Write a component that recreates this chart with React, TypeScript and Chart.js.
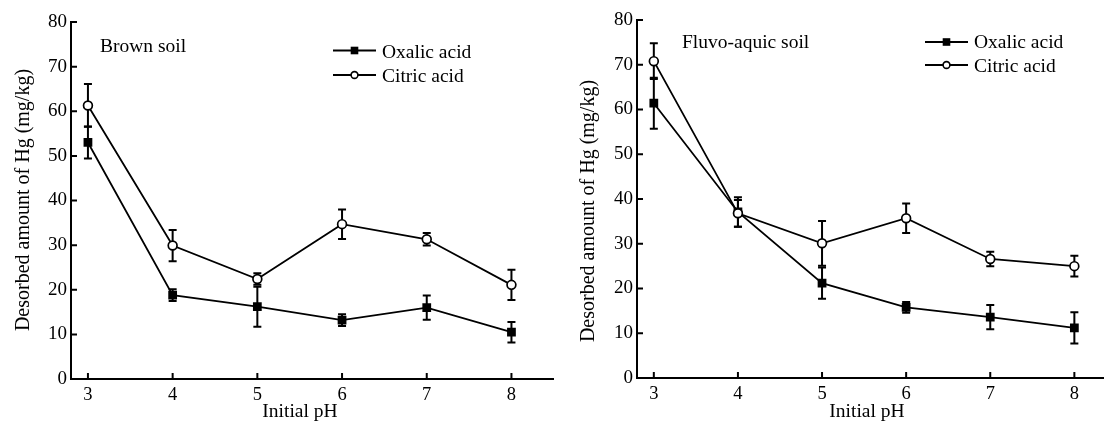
import React, { useEffect, useRef } from "react";
import { Chart, registerables } from "chart.js";

Chart.register(...registerables);

// ---------- data ----------
const pH = [3, 4, 5, 6, 7, 8];
const yTicks = [0, 10, 20, 30, 40, 50, 60, 70, 80];

const brownOxalic = [53.0, 18.8, 16.2, 13.2, 16.0, 10.5];
const brownOxalicErr = [3.6, 1.3, 4.5, 1.3, 2.7, 2.3];
const brownCitric = [61.3, 29.9, 22.4, 34.7, 31.3, 21.1];
const brownCitricErr = [4.8, 3.5, 1.3, 3.3, 1.4, 3.4];

const fluvoOxalic = [61.4, 37.1, 21.2, 15.8, 13.6, 11.2];
const fluvoOxalicErr = [5.7, 3.3, 3.5, 1.2, 2.7, 3.5];
const fluvoCitric = [70.8, 36.8, 30.1, 35.7, 26.6, 25.0];
const fluvoCitricErr = [4.0, 3.0, 5.0, 3.3, 1.6, 2.3];

const seriesNames = ["Oxalic acid", "Citric acid"];
const panelNames = ["Brown soil", "Fluvo-aquic soil"];
const xTitle = "Initial pH";
const yTitle = "Desorbed amount of Hg (mg/kg)";

// ---------- layout / style ----------
const FONT = "'Liberation Serif', 'Times New Roman', serif";

type Panel = {
  name: string;
  oxalic: number[];
  oxalicErr: number[];
  citric: number[];
  citricErr: number[];
  left: number;
  width: number;
  xMax: number;
  yAxisWidth: number;
  topPad: number;
  rightPad: number;
  xAxisHeight: number;
  nameX: number;
  nameY: number;
  yTitleX: number;
  yTitleY: number;
  xTitleX: number;
  xTitleY: number;
  legendX: number;
  legendRowY: number[];
  legendTextY: number[];
};

const panels: Panel[] = [
  {
    name: panelNames[0],
    oxalic: brownOxalic,
    oxalicErr: brownOxalicErr,
    citric: brownCitric,
    citricErr: brownCitricErr,
    left: 0,
    width: 560,
    xMax: 8.5,
    yAxisWidth: 71,
    topPad: 22,
    rightPad: 3,
    xAxisHeight: 49,
    nameX: 100,
    nameY: 52,
    yTitleX: 28.5,
    yTitleY: 200,
    xTitleX: 300,
    xTitleY: 416.5,
    legendX: 333,
    legendRowY: [50.5, 75],
    legendTextY: [58, 81.5],
  },
  {
    name: panelNames[1],
    oxalic: fluvoOxalic,
    oxalicErr: fluvoOxalicErr,
    citric: fluvoCitric,
    citricErr: fluvoCitricErr,
    left: 560,
    width: 550,
    xMax: 8.35,
    yAxisWidth: 77,
    topPad: 20,
    rightPad: 0,
    xAxisHeight: 50,
    nameX: 122,
    nameY: 48,
    yTitleX: 34,
    yTitleY: 211,
    xTitleX: 307,
    xTitleY: 416.5,
    legendX: 365,
    legendRowY: [42, 65],
    legendTextY: [48.3, 71.5],
  },
];

function PanelChart({ p }: { p: Panel }) {
  const ref = useRef<HTMLCanvasElement>(null);

  useEffect(() => {
    const canvas = ref.current!;
    const errs = [p.oxalicErr, p.citricErr];

    const deco = {
      id: "panelDeco",
      beforeDatasetsDraw(chart: any) {
        const ctx = chart.ctx;
        const xs = chart.scales.x;
        const ys = chart.scales.y;
        ctx.save();
        ctx.strokeStyle = "#000";
        ctx.lineWidth = 2;
        chart.data.datasets.forEach((ds: any, i: number) => {
          ds.data.forEach((pt: any, j: number) => {
            const e = errs[i][j];
            const x = xs.getPixelForValue(pt.x);
            const y1 = ys.getPixelForValue(pt.y + e);
            const y2 = ys.getPixelForValue(pt.y - e);
            ctx.beginPath();
            ctx.moveTo(x, y1);
            ctx.lineTo(x, y2);
            ctx.moveTo(x - 4, y1);
            ctx.lineTo(x + 4, y1);
            ctx.moveTo(x - 4, y2);
            ctx.lineTo(x + 4, y2);
            ctx.stroke();
          });
        });
        ctx.restore();
      },
      afterDraw(chart: any) {
        const ctx = chart.ctx;
        const xs = chart.scales.x;
        const ys = chart.scales.y;
        const area = chart.chartArea;
        ctx.save();
        ctx.strokeStyle = "#000";
        ctx.fillStyle = "#000";
        ctx.lineWidth = 2;
        // inward tick marks
        ctx.beginPath();
        yTicks.forEach((v) => {
          if (v === 0) return;
          const y = ys.getPixelForValue(v);
          ctx.moveTo(area.left, y);
          ctx.lineTo(area.left + 6, y);
        });
        pH.forEach((v) => {
          const x = xs.getPixelForValue(v);
          ctx.moveTo(x, area.bottom);
          ctx.lineTo(x, area.bottom - 6);
        });
        ctx.stroke();

        // panel name
        ctx.font = `19.5px ${FONT}`;
        ctx.textBaseline = "alphabetic";
        ctx.textAlign = "left";
        ctx.fillText(p.name, p.nameX, p.nameY);

        // x title
        ctx.textAlign = "center";
        ctx.fillText(xTitle, p.xTitleX, p.xTitleY);

        // y title
        ctx.save();
        ctx.translate(p.yTitleX, p.yTitleY);
        ctx.rotate(-Math.PI / 2);
        ctx.font = `20px ${FONT}`;
        ctx.textAlign = "center";
        ctx.textBaseline = "alphabetic";
        ctx.fillText(yTitle, 0, 0);
        ctx.restore();

        // legend
        seriesNames.forEach((name, i) => {
          const y = p.legendRowY[i];
          const x0 = p.legendX;
          ctx.lineWidth = 2;
          ctx.beginPath();
          ctx.moveTo(x0, y);
          ctx.lineTo(x0 + 43, y);
          ctx.stroke();
          const cx = x0 + 21.5;
          if (i === 0) {
            ctx.fillStyle = "#000";
            ctx.fillRect(cx - 3.8, y - 3.8, 7.6, 7.6);
          } else {
            ctx.beginPath();
            ctx.arc(cx, y, 3.4, 0, Math.PI * 2);
            ctx.fillStyle = "#fff";
            ctx.fill();
            ctx.lineWidth = 1.6;
            ctx.stroke();
          }
          ctx.fillStyle = "#000";
          ctx.font = `19.5px ${FONT}`;
          ctx.textAlign = "left";
          ctx.textBaseline = "alphabetic";
          ctx.fillText(name, x0 + 49, p.legendTextY[i]);
        });
        ctx.restore();
      },
    };

    const chart = new Chart(canvas, {
      type: "line",
      data: {
        datasets: [
          {
            label: seriesNames[0],
            data: pH.map((x, i) => ({ x, y: p.oxalic[i] })),
            borderColor: "#000",
            backgroundColor: "#000",
            borderWidth: 1.8,
            pointStyle: "rect",
            pointRadius: 6.2,
            pointBorderWidth: 0,
            pointBackgroundColor: "#000",
            pointBorderColor: "#000",
            tension: 0,
            order: 1,
          },
          {
            label: seriesNames[1],
            data: pH.map((x, i) => ({ x, y: p.citric[i] })),
            borderColor: "#000",
            backgroundColor: "#fff",
            borderWidth: 1.8,
            pointStyle: "circle",
            pointRadius: 4.4,
            pointBorderWidth: 1.7,
            pointBackgroundColor: "#fff",
            pointBorderColor: "#000",
            tension: 0,
            order: 0,
          },
        ],
      },
      options: {
        responsive: false,
        animation: false,
        events: [],
        layout: { padding: { left: 0, top: p.topPad, right: p.rightPad, bottom: 0 } },
        plugins: {
          legend: { display: false },
          tooltip: { enabled: false },
          title: { display: false },
        },
        scales: {
          x: {
            type: "linear",
            min: 2.8,
            max: p.xMax,
            grid: { display: false, drawTicks: false },
            border: { display: true, color: "#000", width: 2 },
            afterBuildTicks: (s: any) => {
              s.ticks = pH.map((v) => ({ value: v }));
            },
            afterFit: (s: any) => {
              s.height = p.xAxisHeight;
            },
            ticks: {
              color: "#000",
              font: { family: FONT, size: 18.5 },
              padding: 5,
              maxRotation: 0,
              autoSkip: false,
              callback: (v: any) => String(v),
            },
          },
          y: {
            type: "linear",
            min: 0,
            max: 80,
            grid: { display: false, drawTicks: false },
            border: { display: true, color: "#000", width: 2 },
            afterBuildTicks: (s: any) => {
              s.ticks = yTicks.map((v) => ({ value: v }));
            },
            afterFit: (s: any) => {
              s.width = p.yAxisWidth;
            },
            ticks: {
              color: "#000",
              font: { family: FONT, size: 19 },
              padding: 4,
              autoSkip: false,
              callback: (v: any) => String(v),
            },
          },
        },
      },
      plugins: [deco],
    } as any);

    return () => chart.destroy();
  }, [p]);

  return (
    <canvas
      ref={ref}
      width={p.width}
      height={428}
      style={{ position: "absolute", left: p.left, top: 0, width: p.width, height: 428 }}
    />
  );
}

export default function App() {
  return (
    <div
      style={{
        position: "absolute",
        left: 0,
        top: 0,
        width: 1110,
        height: 428,
        background: "#fff",
        overflow: "hidden",
      }}
    >
      {panels.map((p, i) => (
        <PanelChart key={i} p={p} />
      ))}
    </div>
  );
}
